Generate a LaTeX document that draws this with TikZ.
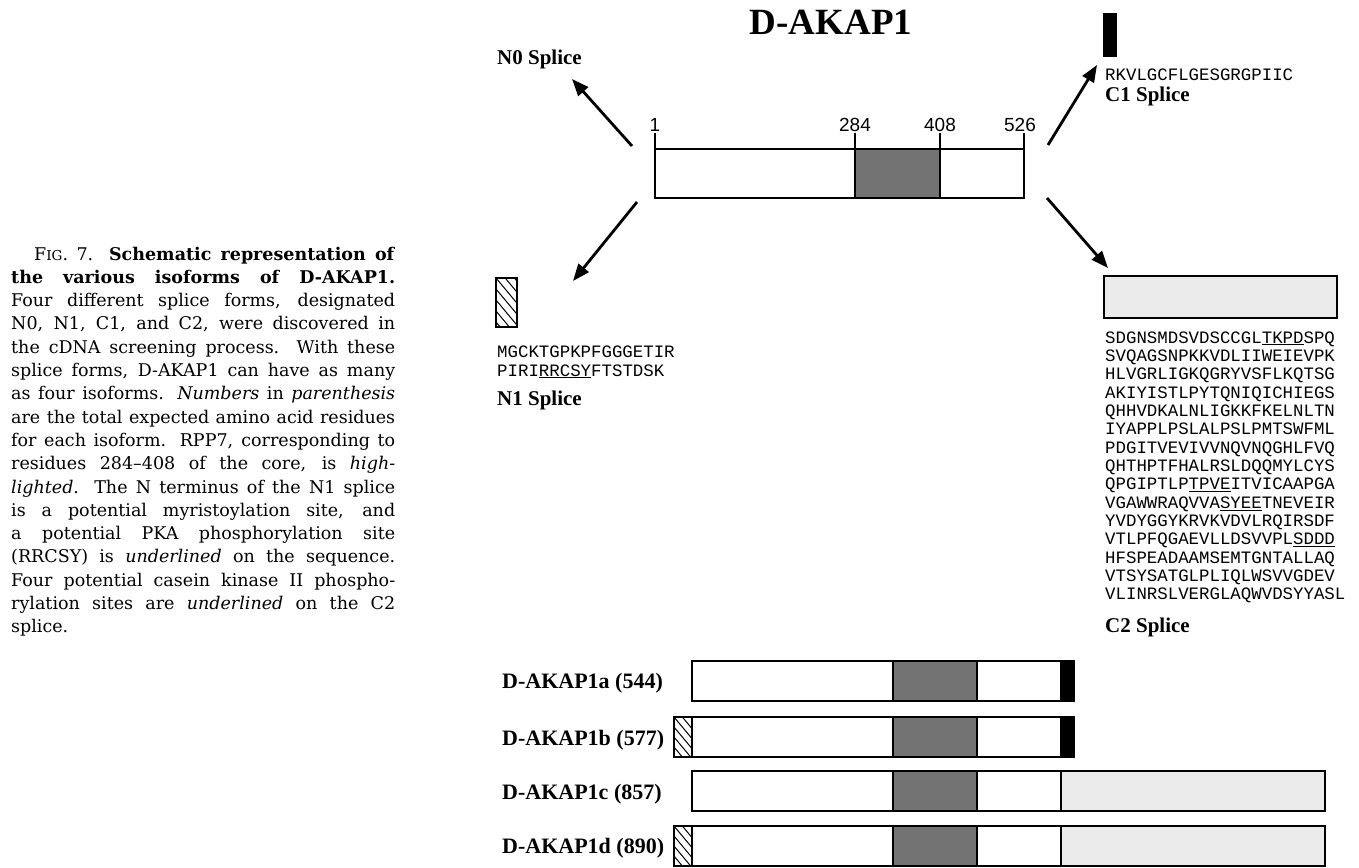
\documentclass[tikz,border=0pt]{standalone}
\usepackage{fontspec}
\setmainfont{Liberation Serif}
\newfontfamily\seqfont{Liberation Mono}
\newfontfamily\numfont{Liberation Sans}
\newfontfamily\capfont{DejaVu Serif}
\usetikzlibrary{arrows.meta}
\tikzset{
  lbl/.style={font=\bfseries\fontsize{21}{24}\selectfont, inner sep=0pt, anchor=base west},
  isolbl/.style={font=\bfseries\fontsize{22}{26}\selectfont, inner sep=0pt, anchor=base west},
  seq/.style={font=\seqfont\fontsize{17.4}{18.4}\selectfont, inner sep=0pt, anchor=base west},
  num/.style={font=\numfont\fontsize{19}{22}\selectfont, inner sep=0pt, anchor=base},
  thinframe/.style={line width=1.6pt},
  frame/.style={line width=2.4pt},
  rpp/.style={fill=black!55},
  lite/.style={fill=black!8},
  cend/.style={fill=black},
  arr/.style={line width=2.8pt, -{Triangle[length=17pt,width=13pt]}},
  hatchline/.style={line width=1pt},
}
\newcommand{\hatchrect}[5]{%
  \begin{scope}
    \clip (#1,#2) rectangle (#3,#4);
    \foreach \k in {-6,...,6} \draw[hatchline] (#1,#2+\k*#5) -- ++(50,60);
  \end{scope}
}
\begin{document}
\begin{tikzpicture}[x=1pt,y=-1pt]
\useasboundingbox (0,0) rectangle (1359,867);

% ---------- caption ----------
\node[inner sep=0pt, anchor=base west] (caption) at (11,260) {\parbox[t]{384pt}{%
\capfont\fontsize{17.5}{23.3}\selectfont
\tolerance=10000 \hyphenpenalty=10000 \exhyphenpenalty=10000 \hbadness=10000
\hspace*{23pt}F{\fontsize{13.6}{0}\selectfont IG}. 7. \textbf{Schematic representation of}\linebreak
\textbf{the various isoforms of D-AKAP1.}\linebreak
Four different splice forms, designated\linebreak
N0, N1, C1, and C2, were discovered in\linebreak
the cDNA screening process. With these\linebreak
splice forms, D-AKAP1 can have as many\linebreak
as four isoforms. \textit{Numbers} in \textit{parenthesis}\linebreak
are the total expected amino acid residues\linebreak
for each isoform. RPP7, corresponding to\linebreak
residues 284–408 of the core, is \textit{high-}\linebreak
\textit{lighted}. The N terminus of the N1 splice\linebreak
is a potential myristoylation site, and\linebreak
a potential PKA phosphorylation site\linebreak
(RRCSY) is \textit{underlined} on the sequence.\linebreak
Four potential casein kinase II phospho-\linebreak
rylation sites are \textit{underlined} on the C2\linebreak
splice.}};

% ---------- title ----------
\node[font=\bfseries\fontsize{37}{40}\selectfont, inner sep=0pt, anchor=base] (title) at (831,35) {D-AKAP1};

% ---------- core ----------
\fill[white] (655,149) rectangle (1024,198);
\fill[rpp] (855,149) rectangle (940,198);
\draw[thinframe] (655,149) rectangle (1024,198);
\coordinate (t1) at (655,133);
\coordinate (t2) at (855,133);
\coordinate (t3) at (940,133);
\coordinate (t4) at (1024,133);
\draw[thinframe] (t1) -- (655,198);
\draw[thinframe] (t2) -- (855,198);
\draw[thinframe] (t3) -- (940,198);
\draw[thinframe] (t4) -- (1024,198);
\node[num] (n1) at (655,131) {1};
\node[num] (n284) at (855,131) {284};
\node[num] (n408) at (940,131) {408};
\node[num] (n526) at (1020,131) {526};

% ---------- splice labels ----------
\node[lbl] (n0lbl) at (497,64) {N0 Splice};

\fill[cend] (1103,13) rectangle (1117,57);
\node[seq] (c1seq) at (1105,81) {RKVLGCFLGESGRGPIIC};
\node[lbl] (c1lbl) at (1105,101) {C1 Splice};

\hatchrect{496}{278}{517}{327}{11}
\draw[frame, line width=2pt] (496,278) rectangle (517,327);
\node[seq] (n1seqa) at (497,357) {MGCKTGPKPFGGGETIR};
\node[seq] (n1seqb) at (497,376) {PIRI\underline{RRCSY}FTSTDSK};
\node[lbl] (n1lbl) at (497,405) {N1 Splice};

\draw[lite, line width=2.2pt] (1104,276) rectangle (1337,318);
\foreach \t [count=\i] in {%
  {SDGNSMDSVDSCCGL\underline{TKPD}SPQ},
  {SVQAGSNPKKVDLIIWEIEVPK},
  {HLVGRLIGKQGRYVSFLKQTSG},
  {AKIYISTLPYTQNIQICHIEGS},
  {QHHVDKALNLIGKKFKELNLTN},
  {IYAPPLPSLALPSLPMTSWFML},
  {PDGITVEVIVVNQVNQGHLFVQ},
  {QHTHPTFHALRSLDQQMYLCYS},
  {QPGIPTLP\underline{TPVE}ITVICAAPGA},
  {VGAWWRAQVVA\underline{SYEE}TNEVEIR},
  {YVDYGGYKRVKVDVLRQIRSDF},
  {VTLPFQGAEVLLDSVVPL\underline{SDDD}},
  {HFSPEADAAMSEMTGNTALLAQ},
  {VTSYSATGLPLIQLWSVVGDEV},
  {VLINRSLVERGLAQWVDSYYASL}}
  \node[seq] (c2seq\i) at (1105,{343+(\i-1)*18.35}) {\t};
\node[lbl] (c2lbl) at (1105,632) {C2 Splice};

% ---------- arrows ----------
\coordinate (a0s) at (632,146); \coordinate (a0e) at (572,79);
\coordinate (a1s) at (637,202); \coordinate (a1e) at (573,281);
\coordinate (a2s) at (1048,145); \coordinate (a2e) at (1097,65);
\coordinate (a3s) at (1047,198); \coordinate (a3e) at (1108,268);
\draw[arr] (a0s) -- (a0e);
\draw[arr] (a1s) -- (a1e);
\draw[arr] (a2s) -- (a2e);
\draw[arr] (a3s) -- (a3e);

% ---------- isoforms ----------
% a
\node[isolbl] (isoa) at (502,688) {D-AKAP1a (544)};
\draw[frame, fill=white] (692,661) rectangle (893,701);
\draw[frame, rpp] (893,661) rectangle (977,701);
\draw[frame, fill=white] (977,661) rectangle (1061,701);
\draw[frame, cend] (1061,661) rectangle (1074,701);
% b
\node[isolbl] (isob) at (502,745) {D-AKAP1b (577)};
\hatchrect{674}{717}{692}{757}{10}
\draw[frame] (674,717) rectangle (692,757);
\draw[frame, fill=white] (692,717) rectangle (893,757);
\draw[frame, rpp] (893,717) rectangle (977,757);
\draw[frame, fill=white] (977,717) rectangle (1061,757);
\draw[frame, cend] (1061,717) rectangle (1074,757);
% c
\node[isolbl] (isoc) at (502,799) {D-AKAP1c (857)};
\draw[frame, fill=white] (692,771) rectangle (893,811);
\draw[frame, rpp] (893,771) rectangle (977,811);
\draw[frame, fill=white] (977,771) rectangle (1061,811);
\draw[frame, lite] (1061,771) rectangle (1325,811);
% d
\node[isolbl] (isod) at (502,853) {D-AKAP1d (890)};
\hatchrect{674}{826}{692}{866}{10}
\draw[frame] (674,826) rectangle (692,866);
\draw[frame, fill=white] (692,826) rectangle (893,866);
\draw[frame, rpp] (893,826) rectangle (977,866);
\draw[frame, fill=white] (977,826) rectangle (1061,866);
\draw[frame, lite] (1061,826) rectangle (1325,866);
\end{tikzpicture}
\end{document}
